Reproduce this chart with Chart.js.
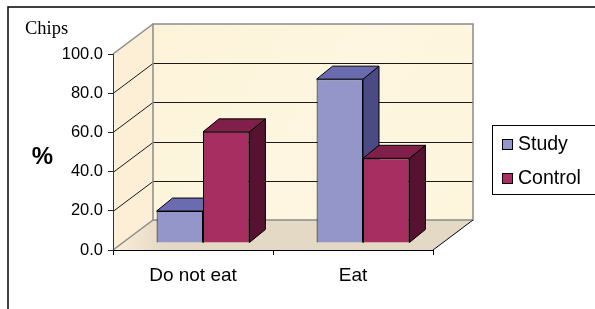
<!DOCTYPE html>
<html>
<head>
<meta charset="utf-8">
<title>Chips</title>
<script src="https://cdn.jsdelivr.net/npm/chart.js@4.4.0/dist/chart.umd.min.js"></script>
<style>
  html, body { margin: 0; padding: 0; background: #fff; }
</style>
</head>
<body>
<canvas id="chipsChart" width="595" height="309"></canvas>
<script>
// Chips consumption, study vs control group (%)
const categories = ['Do not eat', 'Eat'];
const seriesNames = ['Study', 'Control'];
const studyValues = [16.3, 83.6];
const controlValues = [56.7, 43.2];
const yTicks = [0, 20, 40, 60, 80, 100];

// 3D look: depth of the box and of the bars (pixels)
const DEPTH_X = 40, DEPTH_Y = -30;
const BAR_SHIFT_X = 10, BAR_SHIFT_Y = -7;
const BAR_DEPTH_X = 16, BAR_DEPTH_Y = -13;

const shades = {
  Study: { face: '#9495c8', top: '#6b6cb0', side: '#4a4a84' },
  Control: { face: '#a62e60', top: '#80204a', side: '#571131' }
};

const SANS = '"Liberation Sans", Arial, sans-serif';

function poly(ctx, pts, fill, stroke) {
  ctx.beginPath();
  ctx.moveTo(pts[0][0], pts[0][1]);
  for (let i = 1; i < pts.length; i++) ctx.lineTo(pts[i][0], pts[i][1]);
  ctx.closePath();
  if (fill) { ctx.fillStyle = fill; ctx.fill(); }
  if (stroke) { ctx.strokeStyle = stroke; ctx.lineWidth = 1; ctx.stroke(); }
}

function line(ctx, x1, y1, x2, y2, color, w) {
  ctx.beginPath();
  ctx.moveTo(x1, y1);
  ctx.lineTo(x2, y2);
  ctx.strokeStyle = color;
  ctx.lineWidth = w || 1;
  ctx.stroke();
}

const box3d = {
  id: 'box3d',
  beforeDraw(chart) {
    const ctx = chart.ctx;
    const a = chart.chartArea;
    const ys = chart.scales.y;
    const bl = a.left + DEPTH_X, br = a.right + DEPTH_X;
    const bt = a.top + DEPTH_Y, bb = a.bottom + DEPTH_Y;

    ctx.save();
    ctx.fillStyle = '#fff';
    ctx.fillRect(0, 0, chart.width, chart.height);

    // frame round the whole chart
    ctx.beginPath();
    ctx.moveTo(8, chart.height);
    ctx.lineTo(8, 7);
    ctx.lineTo(chart.width, 7);
    ctx.strokeStyle = '#000';
    ctx.lineWidth = 1.5;
    ctx.stroke();

    // walls
    const wall = ctx.createLinearGradient(bl, bt, br, bb);
    wall.addColorStop(0, '#fdf3d9');
    wall.addColorStop(0.5, '#fef6e0');
    wall.addColorStop(1, '#fdf5dc');
    ctx.fillStyle = wall;
    ctx.fillRect(bl, bt, br - bl, bb - bt);
    poly(ctx, [[a.left, a.top], [bl, bt], [bl, bb], [a.left, a.bottom]], '#fcefd6');

    // floor
    const floor = ctx.createLinearGradient(a.left, 0, bl + 10, 0);
    floor.addColorStop(0, '#fbefd6');
    floor.addColorStop(1, '#e4d9c5');
    poly(ctx, [[a.left, a.bottom], [a.right, a.bottom], [br, bb], [bl, bb]], floor);

    // gridlines on back and left wall
    yTicks.forEach(v => {
      if (v <= ys.min || v >= ys.max) return;
      const py = Math.round(ys.getPixelForValue(v)) + 0.5;
      line(ctx, bl, py + DEPTH_Y, br, py + DEPTH_Y, '#1a1a1a', 1);
      line(ctx, a.left, py, bl, py + DEPTH_Y, '#1a1a1a', 1);
    });

    // box edges
    ctx.strokeStyle = '#8a8a8a';
    ctx.lineWidth = 1.5;
    ctx.strokeRect(bl, bt, br - bl, bb - bt);
    line(ctx, a.left, a.top, bl, bt, '#8a8a8a', 1.5);
    line(ctx, a.left, a.bottom, bl, bb, '#8a8a8a', 1.5);
    line(ctx, a.right, a.bottom, br, bb, '#000', 1);

    // texts
    ctx.fillStyle = '#000';
    ctx.font = '18.5px "Liberation Serif", "Times New Roman", serif';
    ctx.textAlign = 'left';
    ctx.textBaseline = 'alphabetic';
    ctx.fillText('Chips', 25, 34);
    ctx.font = 'bold 24px ' + SANS;
    ctx.textAlign = 'center';
    ctx.textBaseline = 'middle';
    ctx.fillText('%', 42.5, 157);
    ctx.restore();
  },
  beforeDatasetsDraw(chart) {
    const ctx = chart.ctx;
    ctx.save();
    ctx.translate(BAR_SHIFT_X, BAR_SHIFT_Y);
    categories.forEach((c, i) => {
      chart.data.datasets.forEach((ds, d) => {
        const el = chart.getDatasetMeta(d).data[i];
        const s = shades[ds.label];
        const l = el.x - el.width / 2, r = el.x + el.width / 2;
        const t = el.y, b = el.base;
        el.draw(ctx);
        ctx.lineJoin = 'round';
        poly(ctx, [[r, t], [r + BAR_DEPTH_X, t + BAR_DEPTH_Y], [r + BAR_DEPTH_X, b + BAR_DEPTH_Y], [r, b]], s.side, '#000');
        poly(ctx, [[l, t], [r, t], [r + BAR_DEPTH_X, t + BAR_DEPTH_Y], [l + BAR_DEPTH_X, t + BAR_DEPTH_Y]], s.top, '#000');
      });
    });
    ctx.restore();
    return false;
  },
  afterDraw(chart) {
    // legend box
    const ctx = chart.ctx;
    ctx.save();
    ctx.strokeStyle = '#000';
    ctx.lineWidth = 1;
    ctx.strokeRect(492.5, 125.5, 110, 69);
    ctx.font = '19.5px ' + SANS;
    ctx.textAlign = 'left';
    ctx.textBaseline = 'middle';
    chart.data.datasets.forEach((ds, d) => {
      const cy = 144.5 + d * 34;
      ctx.fillStyle = ds.backgroundColor;
      ctx.fillRect(502, cy - 5.5, 11, 11);
      ctx.strokeRect(502.5, cy - 5, 10, 10);
      ctx.fillStyle = '#000';
      ctx.fillText(ds.label, 518, cy);
    });
    ctx.restore();
  }
};

new Chart(document.getElementById('chipsChart'), {
  type: 'bar',
  data: {
    labels: categories,
    datasets: [
      { label: seriesNames[0], data: studyValues, backgroundColor: shades.Study.face, borderColor: '#000', borderWidth: 1 },
      { label: seriesNames[1], data: controlValues, backgroundColor: shades.Control.face, borderColor: '#000', borderWidth: 1 }
    ]
  },
  options: {
    responsive: false,
    animation: false,
    categoryPercentage: 0.58,
    barPercentage: 1.0,
    layout: { padding: { left: 53, right: 162, top: 54, bottom: 14 } },
    plugins: {
      legend: { display: false },
      tooltip: { enabled: false }
    },
    scales: {
      x: {
        grid: { drawOnChartArea: false, tickLength: 5, color: '#000', offset: true },
        border: { display: true, color: '#000', width: 1 },
        ticks: { color: '#000', font: { family: SANS, size: 19 }, padding: 9, maxRotation: 0 },
        afterFit(s) { s.height = 45; }
      },
      y: {
        min: 0,
        max: 100,
        afterBuildTicks(s) { s.ticks = yTicks.map(v => ({ value: v })); },
        ticks: { color: '#000', font: { family: SANS, size: 16.5 }, padding: 5, callback: v => v.toFixed(1) },
        grid: { drawOnChartArea: false, tickLength: 5, color: '#222' },
        border: { display: true, color: '#333', width: 1 },
        afterFit(s) { s.width = 60; }
      }
    }
  },
  plugins: [box3d]
});
</script>
</body>
</html>
